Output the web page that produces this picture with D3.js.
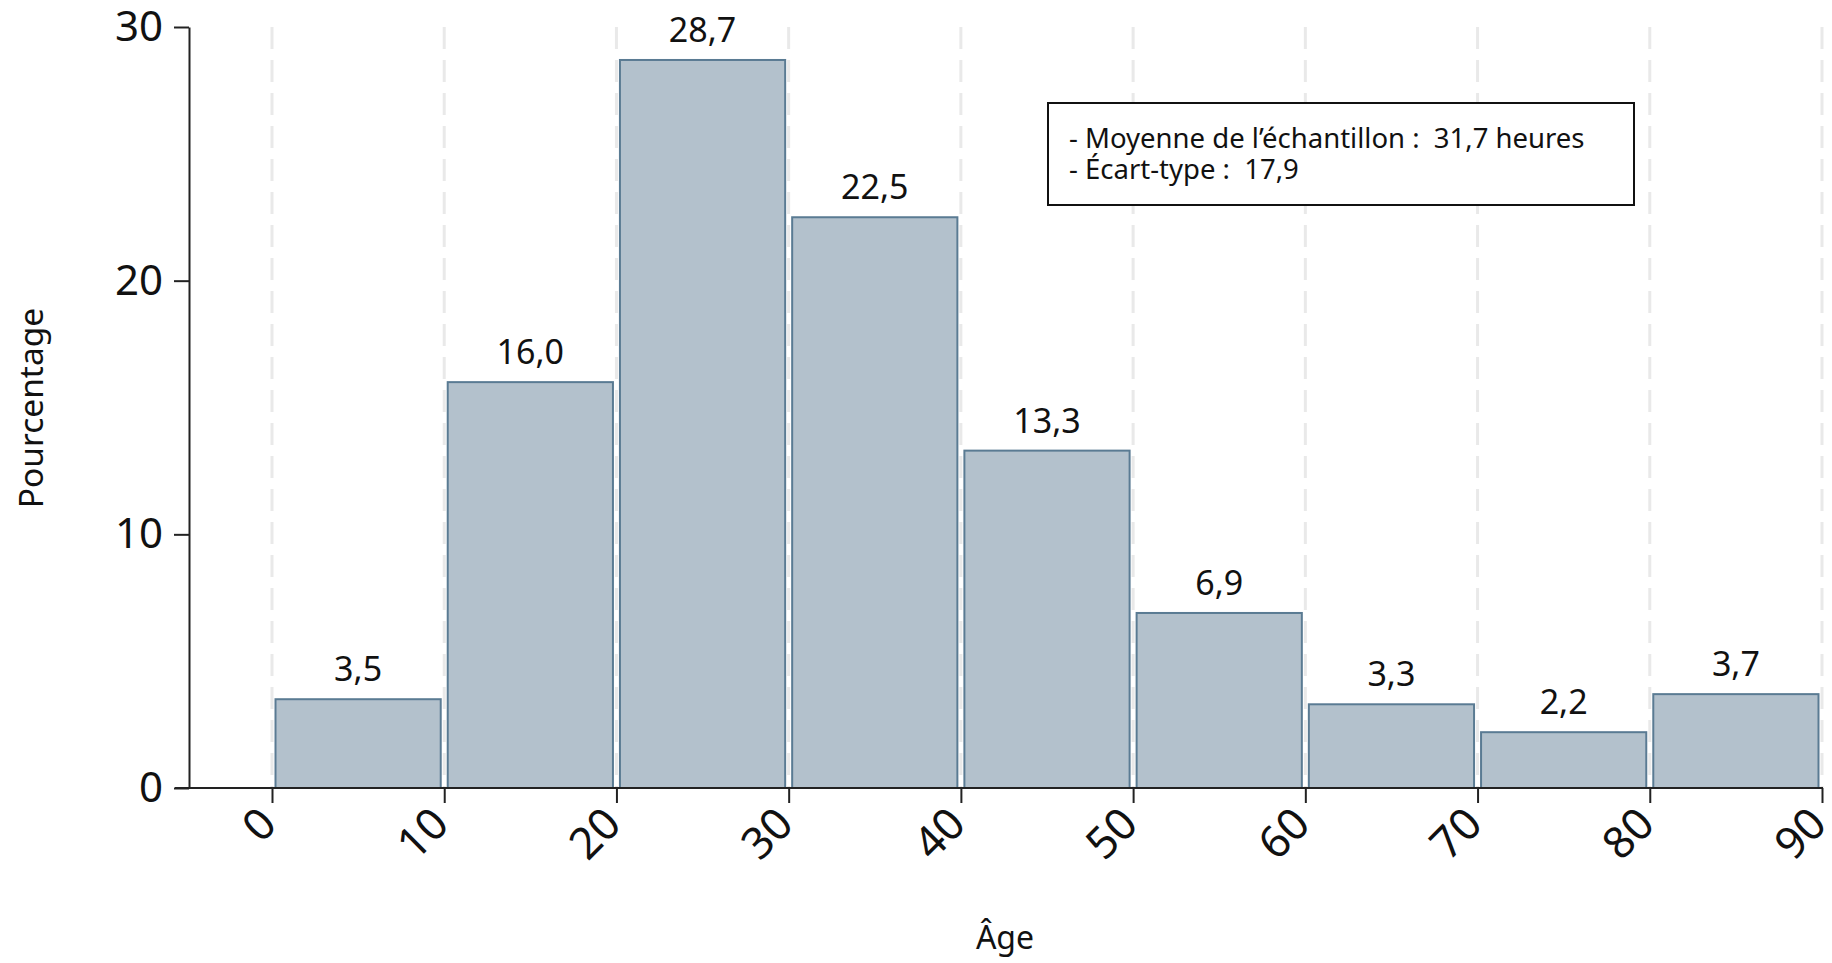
<!DOCTYPE html>
<html>
<head>
<meta charset="utf-8">
<script src="https://cdn.jsdelivr.net/npm/d3@7"></script>
<style>
  body { margin: 0; background: #fff; }
  text { font-family: "Noto Sans", sans-serif; fill: #111; }
</style>
</head>
<body>
<script>
// histogram bins (age, in years) and percentage of the sample
var binStarts = [0, 10, 20, 30, 40, 50, 60, 70, 80];
var binEnds = [10, 20, 30, 40, 50, 60, 70, 80, 90];
var percents = [3.5, 16.0, 28.7, 22.5, 13.3, 6.9, 3.3, 2.2, 3.7];
var xTicks = [0, 10, 20, 30, 40, 50, 60, 70, 80, 90];
var yTicks = [0, 10, 20, 30];
var noteLines = ["- Moyenne de l\u2019échantillon :  31,7 heures", "- Écart-type :  17,9"];

var width = 1832, height = 963;
var fmt = function (v) { return v.toFixed(1).replace(".", ","); };

var svg = d3.select("body").append("svg")
    .attr("width", width)
    .attr("height", height);

var x = d3.scaleLinear().domain([0, 90]).range([272, 1822]);
var y = d3.scaleLinear().domain([0, 30]).range([788, 27]);
var axisLeftX = 189;

// dashed vertical grid
svg.append("g").selectAll("line")
    .data(xTicks)
    .enter().append("line")
    .attr("x1", function (d) { return x(d); })
    .attr("x2", function (d) { return x(d); })
    .attr("y1", y(30))
    .attr("y2", y(0))
    .attr("stroke", "#e9e9e9")
    .attr("stroke-width", 3)
    .attr("stroke-dasharray", "22,11");

// note box
var box = svg.append("g");
box.append("rect")
    .attr("x", 1048).attr("y", 103)
    .attr("width", 586).attr("height", 102)
    .attr("fill", "#fff")
    .attr("stroke", "#111")
    .attr("stroke-width", 2);
box.selectAll("text")
    .data(noteLines)
    .enter().append("text")
    .attr("x", 1069)
    .attr("y", function (d, i) { return 148 + i * 31; })
    .style("white-space", "pre")
    .attr("font-size", 27.5)
    .text(function (d) { return d; });

// bars
var data = percents.map(function (v, i) { return {lo: binStarts[i], hi: binEnds[i], v: v}; });
svg.append("g").selectAll("rect")
    .data(data)
    .enter().append("rect")
    .attr("x", function (d) { return x(d.lo) + 3.5; })
    .attr("width", function (d) { return x(d.hi) - x(d.lo) - 7; })
    .attr("y", function (d) { return y(d.v); })
    .attr("height", function (d) { return y(0) - y(d.v); })
    .attr("fill", "#b3c1cc")
    .attr("stroke", "#5a7b93")
    .attr("stroke-width", 2);

svg.append("g").selectAll("text")
    .data(data)
    .enter().append("text")
    .attr("x", function (d) { return (x(d.lo) + x(d.hi)) / 2; })
    .attr("y", function (d) { return y(d.v) - 18; })
    .attr("text-anchor", "middle")
    .attr("font-size", 34)
    .text(function (d) { return fmt(d.v); });

// y axis
var yAxis = svg.append("g")
    .attr("transform", "translate(" + axisLeftX + ",0)")
    .call(d3.axisLeft(y).tickValues(yTicks).tickSize(15).tickSizeOuter(0).tickPadding(11));
yAxis.selectAll("text")
    .attr("font-size", 42)
    .attr("font-family", "Noto Sans, sans-serif")
    .attr("fill", "#111");

// x axis
var xAxis = svg.append("g")
    .attr("transform", "translate(0," + y(0) + ")")
    .call(d3.axisBottom(x).tickValues(xTicks).tickSize(15).tickSizeOuter(0));
xAxis.select(".domain").remove();
xAxis.selectAll("text")
    .attr("font-size", 44)
    .attr("font-family", "Noto Sans, sans-serif")
    .attr("fill", "#111")
    .attr("text-anchor", "end")
    .attr("x", 0).attr("y", 0).attr("dy", "0.72em")
    .attr("transform", "translate(-16,16) rotate(-45)");
xAxis.append("line")
    .attr("x1", 175).attr("x2", x(90) + 1)
    .attr("y1", 0).attr("y2", 0)
    .attr("stroke", "#222")
    .attr("stroke-width", 2);

svg.selectAll(".domain, .tick line")
    .attr("stroke", "#222")
    .attr("stroke-width", 2);

// axis titles
svg.append("text")
    .attr("transform", "translate(43,408) rotate(-90)")
    .attr("text-anchor", "middle")
    .attr("font-size", 33.5)
    .text("Pourcentage");

svg.append("text")
    .attr("x", 1005)
    .attr("y", 949)
    .attr("text-anchor", "middle")
    .attr("font-size", 32)
    .text("Âge");
</script>
</body>
</html>
